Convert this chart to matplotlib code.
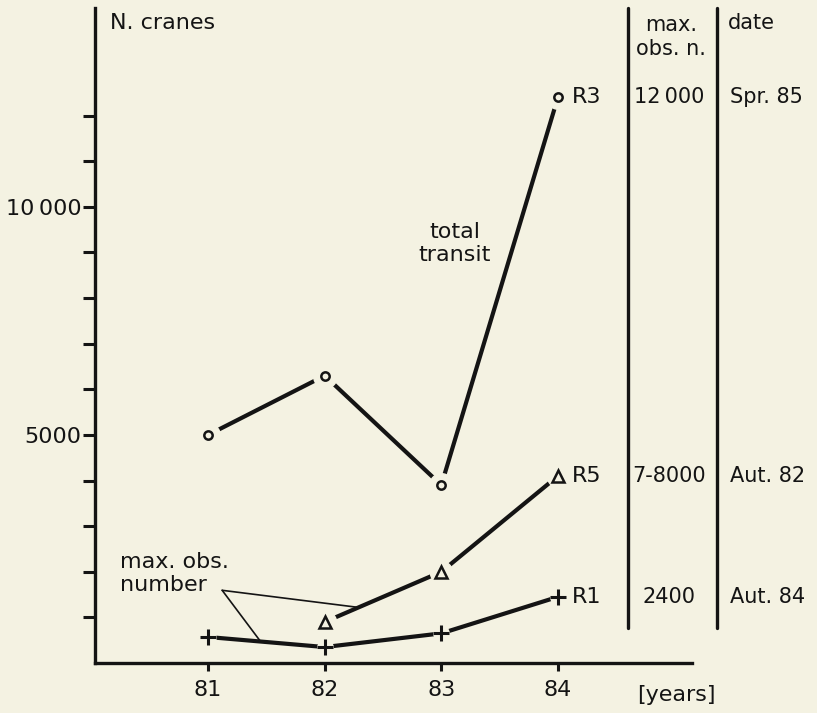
# Crane counts at roost sites, 1981-1984

import numpy as np
import matplotlib
matplotlib.use("Agg")
import matplotlib.pyplot as plt
from matplotlib.transforms import blended_transform_factory

# data
years = [81, 82, 83, 84]
total_transit = [5000, 6300, 3900, 12400]   # R3 series, circles
r5_years = [82, 83, 84]
r5 = [900, 2000, 4100]                      # triangles
r1 = [570, 350, 650, 1450]                  # plus signs

site_names = ["R3", "R5", "R1"]
max_obs = ["12\u2009000", "7-8000", "2400"]
dates = ["Spr. 85", "Aut. 82", "Aut. 84"]

ytick_values = list(range(1000, 13000, 1000))
ytick_labels = {5000: "5000", 10000: "10\u2009000"}

bg = "#f4f2e2"
ink = "#141414"

plt.rcParams["font.family"] = ["DejaVu Sans"]

fig = plt.figure(figsize=(8.17, 7.13), dpi=100, facecolor=bg)
ax = fig.add_axes([0.1163, 0.0701, 0.7307, 0.9187])
ax.set_facecolor(bg)

ax.set_xlim(80.03, 85.15)
ax.set_ylim(0, 14360)

for s in ["top", "right"]:
    ax.spines[s].set_visible(False)
for s in ["left", "bottom"]:
    ax.spines[s].set_linewidth(2.4)
    ax.spines[s].set_color(ink)

ax.set_xticks(years)
ax.set_xticklabels([str(y) for y in years])
ax.set_yticks(ytick_values)
ax.set_yticklabels([ytick_labels.get(v, "") for v in ytick_values])
ax.tick_params(axis="both", direction="out", colors=ink, labelsize=16,
               width=2.2)
ax.tick_params(axis="y", length=9, pad=1)
ax.tick_params(axis="x", length=6, pad=6)

# series: lines, then a background halo so the line stops short of the marker
series = [
    (years, total_transit, "o", 6, 17),
    (r5_years, r5, "^", 8, 16),
    (years, r1, "+", 11, 11),
]
for xs, ys, m, ms, halo in series:
    ax.plot(xs, ys, color=ink, lw=3.0, solid_capstyle="butt", zorder=2)
    ax.plot(xs, ys, ls="none", marker="o", ms=halo, mfc=bg, mec=bg, zorder=3)
    ax.plot(xs, ys, ls="none", marker=m, ms=ms, mfc="none", mec=ink,
            mew=2.2 if m == "+" else 1.8, zorder=4)

# site labels next to the last point of each series
last_points = [(years[-1], total_transit[-1]), (r5_years[-1], r5[-1]),
               (years[-1], r1[-1])]
for name, (lx, ly) in zip(site_names, last_points):
    ax.annotate(name, (lx, ly), xytext=(10, 0), textcoords="offset points",
                va="center", ha="left", fontsize=16, color=ink)

# the small table on the right
tr = blended_transform_factory(ax.transAxes, ax.transData)
for (lx, ly), n, d in zip(last_points, max_obs, dates):
    ax.text(0.962, ly, n, transform=tr, ha="center", va="center",
            fontsize=15, color=ink, clip_on=False)
    ax.text(1.064, ly, d, transform=tr, ha="left", va="center",
            fontsize=15, color=ink, clip_on=False)
for xv in [0.893, 1.042]:
    ax.plot([xv, xv], [0.053, 1.0], transform=ax.transAxes, color=ink,
            lw=2.4, clip_on=False, solid_capstyle="round")
ax.text(0.965, 0.955, "max.\nobs. n.", transform=ax.transAxes,
        ha="center", va="center", fontsize=15, color=ink,
        linespacing=1.25)
ax.text(1.060, 0.977, "date", transform=ax.transAxes, ha="left",
        va="center", fontsize=15, color=ink, clip_on=False)

# axis captions
ax.text(0.025, 0.977, "N. cranes", transform=ax.transAxes, ha="left",
        va="center", fontsize=16, color=ink)
ax.text(0.908, -0.049, "[years]", transform=ax.transAxes, ha="left",
        va="center", fontsize=16, color=ink, clip_on=False)

ax.text(0.603, 0.64, "total\ntransit", transform=ax.transAxes,
        ha="center", va="center", fontsize=16, color=ink, linespacing=1.2)

# "max. obs. number" with thin pointers to the R5 and R1 lines
ax.text(0.042, 0.137, "max. obs.\nnumber", transform=ax.transAxes,
        ha="left", va="center", fontsize=16, color=ink, linespacing=1.2)
for px, xs, ys in [(82.29, r5_years, r5), (81.45, years, r1)]:
    py = np.interp(px, xs, ys)
    ax.annotate("", xy=(px, py), xytext=(0.213, 0.111),
                textcoords="axes fraction",
                arrowprops=dict(arrowstyle="-", color=ink, lw=1.2,
                                shrinkA=0, shrinkB=0))

fig.savefig("out.png", dpi=100, facecolor=bg)
